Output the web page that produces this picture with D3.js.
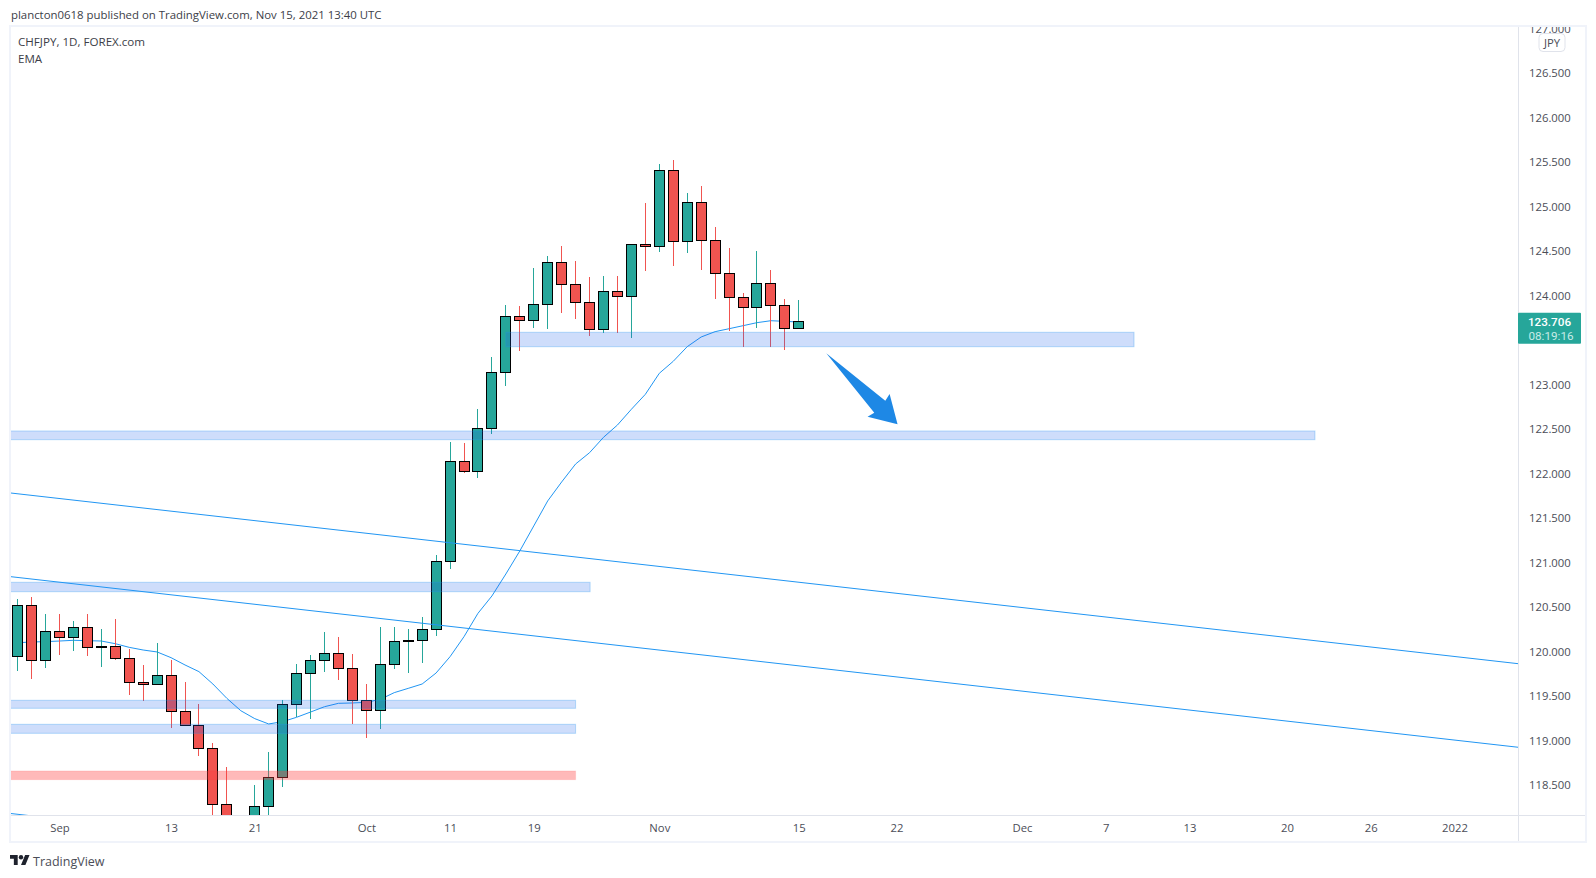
<!DOCTYPE html>
<html>
<head>
<meta charset="utf-8">
<style>
html,body{margin:0;padding:0;background:#fff;overflow:hidden}
svg{display:block}
text{font-family:"Open Sans","Noto Sans",sans-serif}
</style>
<script src="https://cdn.jsdelivr.net/npm/d3@7/dist/d3.min.js"></script>
</head>
<body>
<svg id="c" width="1596" height="878"></svg>
<script>
// ---- data ----
const opens  = [119.948,120.521,119.903,120.229,120.161,120.274,120.049,120.060,119.925,119.656,119.633,119.734,119.330,119.173,118.914,118.285,118.000,117.950,118.263,118.588,119.409,119.757,119.903,119.982,119.813,119.454,119.341,119.858,120.116,120.128,120.251,121.015,122.139,122.027,122.510,123.139,123.769,123.724,123.903,124.375,124.128,123.926,123.622,124.049,123.993,124.578,124.555,125.409,124.611,125.049,124.622,124.252,123.982,123.870,124.139,123.892,123.634];
const closes = [120.521,119.903,120.229,120.161,120.274,120.049,120.060,119.925,119.656,119.633,119.734,119.330,119.173,118.914,118.285,118.000,117.950,118.263,118.588,119.409,119.757,119.903,119.982,119.813,119.454,119.341,119.858,120.116,120.128,120.251,121.015,122.139,122.027,122.510,123.139,123.769,123.724,123.903,124.375,124.128,123.926,123.622,124.049,123.993,124.578,124.555,125.409,124.611,125.049,124.622,124.252,123.982,123.870,124.139,123.892,123.634,123.706];
const highs  = [120.592,120.615,120.424,120.424,120.345,120.424,120.255,120.367,120.030,119.851,120.098,119.907,119.660,119.412,118.974,118.705,118.100,118.502,118.873,119.457,119.862,119.963,120.221,120.165,119.974,119.637,120.278,120.278,120.255,120.390,121.087,122.356,122.342,122.727,123.311,123.896,123.884,124.311,124.446,124.558,124.390,124.210,124.221,124.221,124.581,125.042,125.480,125.525,125.154,125.233,124.772,124.536,124.027,124.502,124.289,123.963,123.952];
const lows   = [119.787,119.697,119.821,119.963,120.012,119.952,119.832,119.910,119.517,119.450,119.633,119.146,119.173,118.832,118.100,117.800,117.700,117.800,118.100,118.480,119.263,119.248,119.776,119.682,119.188,119.027,119.131,119.809,119.761,119.873,120.176,120.933,122.013,121.955,122.449,122.989,123.382,123.640,123.629,123.809,123.742,123.551,123.584,123.584,123.528,124.281,124.494,124.337,124.483,124.292,123.966,123.607,123.427,123.640,123.427,123.393,123.634];
const ema    = [120.101,120.109,120.113,120.120,120.128,120.124,120.120,120.090,120.049,120.019,119.997,119.933,119.851,119.776,119.637,119.476,119.337,119.248,119.188,119.214,119.263,119.322,119.382,119.420,119.424,119.431,119.465,119.540,119.588,119.637,119.761,119.944,120.169,120.431,120.626,120.873,121.132,121.413,121.694,121.907,122.109,122.236,122.409,122.547,122.724,122.892,123.128,123.263,123.427,123.536,123.596,123.629,123.663,123.697,123.719,123.712,123.704];

// zones: bar index from/to, upper and lower price
const zoneFrom  = [35,-5,-5,-5,-5];
const zoneTo    = [80.03,93,41.04,40,40];
const zoneHigh  = [123.589,122.480,120.780,119.454,119.184];
const zoneLow   = [123.427,122.382,120.674,119.364,119.083];
const redFrom = [-5], redTo = [40], redHigh = [118.660], redLow = [118.562];

// trend lines: bar index and price at each end
const trendX0 = [-0.487,-0.487,-0.487], trendX1 = [107.58,107.58,107.58];
const trendY0 = [121.783,120.843,118.182], trendY1 = [119.865,118.926,116.265];

// arrow outline in bar index / price
const arrowX = [57.97,62.2,62.51,63.08,60.93,61.41];
const arrowP = [123.353,122.82,122.895,122.555,122.64,122.685];

const priceTicks = [118.5,119,119.5,120,120.5,121,121.5,122,122.5,123,124,124.5,125,125.5,126,126.5,127];
const timeTickIdx = [3,11,17,25,31,37,46,56,63,72,78,84,91,97,103];
const timeTickLabels = ["Sep","13","21","Oct","11","19","Nov","15","22","Dec","7","13","20","26","2022"];
const headline = "plancton0618 published on TradingView.com, Nov 15, 2021 13:40 UTC";
const legend = ["CHFJPY, 1D, FOREX.com","EMA"];
const lastPrice = closes[closes.length-1];
const countdown = "08:19:16";

// ---- layout ----
const plot = {l:11, r:1518, t:27, b:815};
const x = d3.scaleLinear().domain([0,1]).range([17.6,31.55]);
const y = d3.scaleLinear().domain([124,118.5]).range([295.7,785.2]);
const GREEN="#26a69a", RED="#f05450", INK="#4b4d57", BLUE="#2196f3", AXIS="#e0e3eb", FRAME="#f0f3fa";

const svg = d3.select("#c");
const defs = svg.append("defs");
defs.append("clipPath").attr("id","p").append("rect")
  .attr("x",plot.l).attr("y",plot.t).attr("width",plot.r-plot.l).attr("height",plot.b-plot.t);
defs.append("clipPath").attr("id","a").append("rect")
  .attr("x",plot.r).attr("y",plot.t).attr("width",70).attr("height",plot.b-plot.t);

svg.append("rect").attr("width",1596).attr("height",878).attr("fill","#fff");

const g = svg.append("g").attr("clip-path","url(#p)");

// EMA under the candles
const idx = d3.range(opens.length);
g.append("path").datum(idx).attr("fill","none").attr("stroke",BLUE).attr("stroke-width",1)
  .attr("d",d3.line().x(i=>x(i)).y(i=>y(ema[i])));

// candles: wick occupies one pixel column, body is 11px wide including its 1px outline
const col = i => Math.floor(x(i)) + 0.5;
const wicks = g.append("g").attr("shape-rendering","crispEdges");
wicks.selectAll("line").data(idx).join("line")
  .attr("x1",col).attr("x2",col)
  .attr("y1",i=>y(highs[i])).attr("y2",i=>y(lows[i]))
  .attr("stroke",i=>closes[i]>=opens[i]?GREEN:RED).attr("stroke-width",1);
const bodies = g.append("g").attr("shape-rendering","crispEdges");
bodies.selectAll("rect").data(idx).join("rect")
  .attr("x",i=>col(i)-5)
  .attr("width",10)
  .attr("y",i=>y(Math.max(opens[i],closes[i])))
  .attr("height",i=>Math.max(0.5,Math.abs(y(opens[i])-y(closes[i]))))
  .attr("fill",i=>closes[i]>=opens[i]?GREEN:RED)
  .attr("stroke","#000").attr("stroke-width",1);

// zones
const zg = g.append("g");
zg.selectAll("rect.z").data(d3.range(zoneFrom.length)).join("rect").attr("class","z")
  .attr("x",i=>x(zoneFrom[i])).attr("width",i=>x(zoneTo[i])-x(zoneFrom[i]))
  .attr("y",i=>y(zoneHigh[i])).attr("height",i=>y(zoneLow[i])-y(zoneHigh[i]))
  .attr("fill","rgba(33,100,235,0.22)").attr("stroke","rgba(33,150,243,0.30)").attr("stroke-width",1);
zg.selectAll("rect.r").data(d3.range(redFrom.length)).join("rect").attr("class","r")
  .attr("x",i=>x(redFrom[i])).attr("width",i=>x(redTo[i])-x(redFrom[i]))
  .attr("y",i=>y(redHigh[i])).attr("height",i=>y(redLow[i])-y(redHigh[i]))
  .attr("fill","rgba(255,60,60,0.36)").attr("stroke","rgba(255,60,60,0.12)").attr("stroke-width",1);

// trend lines
g.append("g").selectAll("line").data(d3.range(trendX0.length)).join("line")
  .attr("x1",i=>x(trendX0[i])).attr("x2",i=>x(trendX1[i]))
  .attr("y1",i=>y(trendY0[i])).attr("y2",i=>y(trendY1[i]))
  .attr("stroke",BLUE).attr("stroke-width",1);

// arrow
g.append("path").datum(d3.range(arrowX.length))
  .attr("d",d3.line().x(i=>x(arrowX[i])).y(i=>y(arrowP[i])).curve(d3.curveLinearClosed))
  .attr("fill","#1e88e5");

// axis lines + frame
const fr = svg.append("g").attr("fill","none").attr("shape-rendering","crispEdges");
fr.append("line").attr("x1",plot.r).attr("x2",plot.r).attr("y1",plot.t).attr("y2",842).attr("stroke",AXIS);
fr.append("line").attr("x1",plot.l).attr("x2",1586).attr("y1",plot.b).attr("y2",plot.b).attr("stroke",AXIS);
fr.append("rect").attr("x",10).attr("y",26).attr("width",1576).attr("height",816).attr("stroke",FRAME).attr("stroke-width",2);

// price axis
const ya = svg.append("g").attr("clip-path","url(#a)");
const yAxis = d3.axisRight(y).tickValues(priceTicks).tickFormat(d3.format(".3f")).tickSize(0).tickPadding(11);
const yg = ya.append("g").attr("transform",`translate(${plot.r},0)`).call(yAxis);
yg.select(".domain").remove();
yg.selectAll("text").attr("fill",INK).style("font-size","11.3px").style("font-family",'"Open Sans",sans-serif');

// time axis
const xAxis = d3.axisBottom(x).tickValues(timeTickIdx).tickFormat((d,i)=>timeTickLabels[i]).tickSize(0).tickPadding(9);
const xg = svg.append("g").attr("transform",`translate(0,${plot.b})`).call(xAxis);
xg.select(".domain").remove();
xg.selectAll("text").attr("fill",INK).style("font-size","11.3px").style("font-family",'"Open Sans",sans-serif');

// currency badge
svg.append("rect").attr("x",1539).attr("y",33.5).attr("width",26).attr("height",18).attr("rx",4)
  .attr("fill","#fff").attr("stroke",AXIS);
svg.append("text").attr("x",1552).attr("y",46.5).attr("text-anchor","middle").attr("fill",INK)
  .style("font-size","11.3px").text("JPY");

// last price tag
const tagY = y(lastPrice);
svg.append("rect").attr("x",1518).attr("y",tagY-9).attr("width",63).attr("height",31).attr("rx",1).attr("fill",GREEN);
svg.append("text").attr("x",1549.5).attr("y",tagY+4).attr("text-anchor","middle").attr("fill","#fff")
  .style("font-family","Roboto,sans-serif").style("font-size","11.7px").style("font-weight",500).text(lastPrice.toFixed(3));
svg.append("text").attr("x",1551).attr("y",tagY+18).attr("text-anchor","middle").attr("fill","#c8ebe7")
  .style("font-family","Roboto,sans-serif").style("font-size","11.7px").text(countdown);

// texts
svg.append("text").attr("x",11).attr("y",19).attr("fill","#3c3e48").style("font-size","11.4px").text(headline);
svg.selectAll("text.lg").data(legend).join("text").attr("class","lg")
  .attr("x",18).attr("y",(d,i)=>46+i*17).attr("fill","#3c3e48").style("font-size","11.6px").text(d=>d);

// TradingView footer
const logo = svg.append("g").attr("transform","translate(10,852.8) scale(0.55)").attr("fill","#1e222d");
logo.append("path").attr("d","M14 22H7V11H0V4h14v18zM28 22h-8l7.5-18h8L28 22z");
logo.append("circle").attr("cx",20).attr("cy",8).attr("r",4);
svg.append("text").attr("x",33).attr("y",865.5).attr("fill","#4b4d57").style("font-size","12.5px").text("TradingView");
</script>
</body>
</html>
